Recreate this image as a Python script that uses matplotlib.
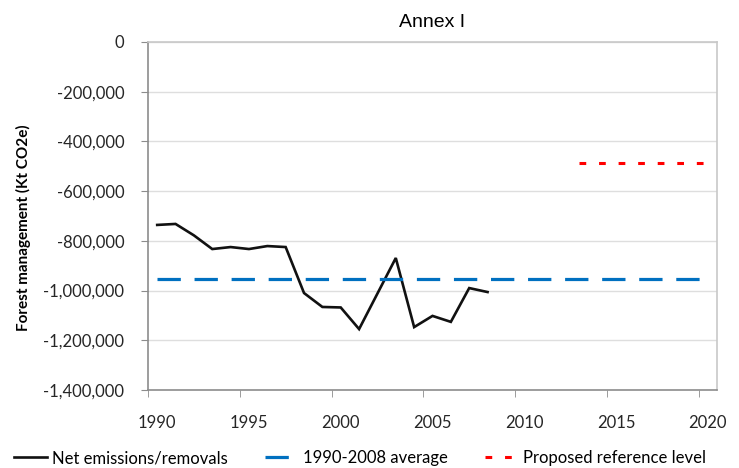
import matplotlib
matplotlib.use('Agg')
import matplotlib.pyplot as plt
from matplotlib.ticker import FuncFormatter, MultipleLocator
import numpy as np

years = list(range(1990, 2009))
net = [-736000, -732000, -778000, -833000, -825000, -833000, -821000, -825000,
       -1010000, -1066000, -1068000, -1155000, -1012000, -869000, -1147000,
       -1102000, -1126000, -990000, -1006000]
avg_years = [1990, 2020]
avg_value = -953000
ref_years = [2013, 2020]
ref_value = -487000

plt.rcParams['font.family'] = ['Lato', 'DejaVu Sans']
font_size = 12

fig = plt.figure(figsize=(7.39, 4.68), dpi=100)
ax = fig.add_axes([0.2003, 0.1667, 0.7699, 0.7436])

ax.plot(years, net, color='#111111', lw=1.9, solid_joinstyle='miter',
        label='Net emissions/removals')
ax.plot(avg_years, [avg_value] * 2, color='#0070c0', lw=2.3,
        dashes=(7.3, 4.3), label='1990-2008 average')
ax.plot(ref_years, [ref_value] * 2, color='#ff0000', lw=2.2,
        dashes=(2.2, 4.2), label='Proposed reference level')

ax.set_xlim(1989.5, 2020.5)
ax.set_ylim(-1400000, 0)
ax.set_xticks(range(1990, 2021, 5))
ax.set_xticks(np.arange(1989.5, 2020, 5), minor=True)
ax.yaxis.set_major_locator(MultipleLocator(200000))
ax.yaxis.set_major_formatter(FuncFormatter(lambda v, p: f'{int(v):,}'))

ax.grid(axis='y', color='#dedede', lw=1)
ax.set_axisbelow(True)
for s in ['top', 'right']:
    ax.spines[s].set_color('#c8c8c8')
for s in ['left', 'bottom']:
    ax.spines[s].set_color('#8c8c8c')
for s in ax.spines.values():
    s.set_linewidth(1.2)

ax.tick_params(axis='x', which='major', length=0, pad=18,
               labelsize=font_size, labelcolor='#262626')
ax.tick_params(axis='x', which='minor', length=5, color='#8c8c8c')
ax.tick_params(axis='y', length=5, pad=12, color='#8c8c8c',
               labelsize=font_size, labelcolor='#262626')

ax.set_ylabel('Forest management (Kt CO2e)', fontsize=11,
              fontweight='bold')
ax.yaxis.set_label_coords(-0.205, 0.466)
ax.set_title('Annex I', fontsize=14, family='Liberation Sans', pad=11)

fig.legend(loc='lower center', bbox_to_anchor=(0.487, -0.028), ncol=3,
           frameon=False, fontsize=font_size, handlelength=2.0,
           columnspacing=2.2, handletextpad=0.3)

plt.savefig('out.png', dpi=100)
